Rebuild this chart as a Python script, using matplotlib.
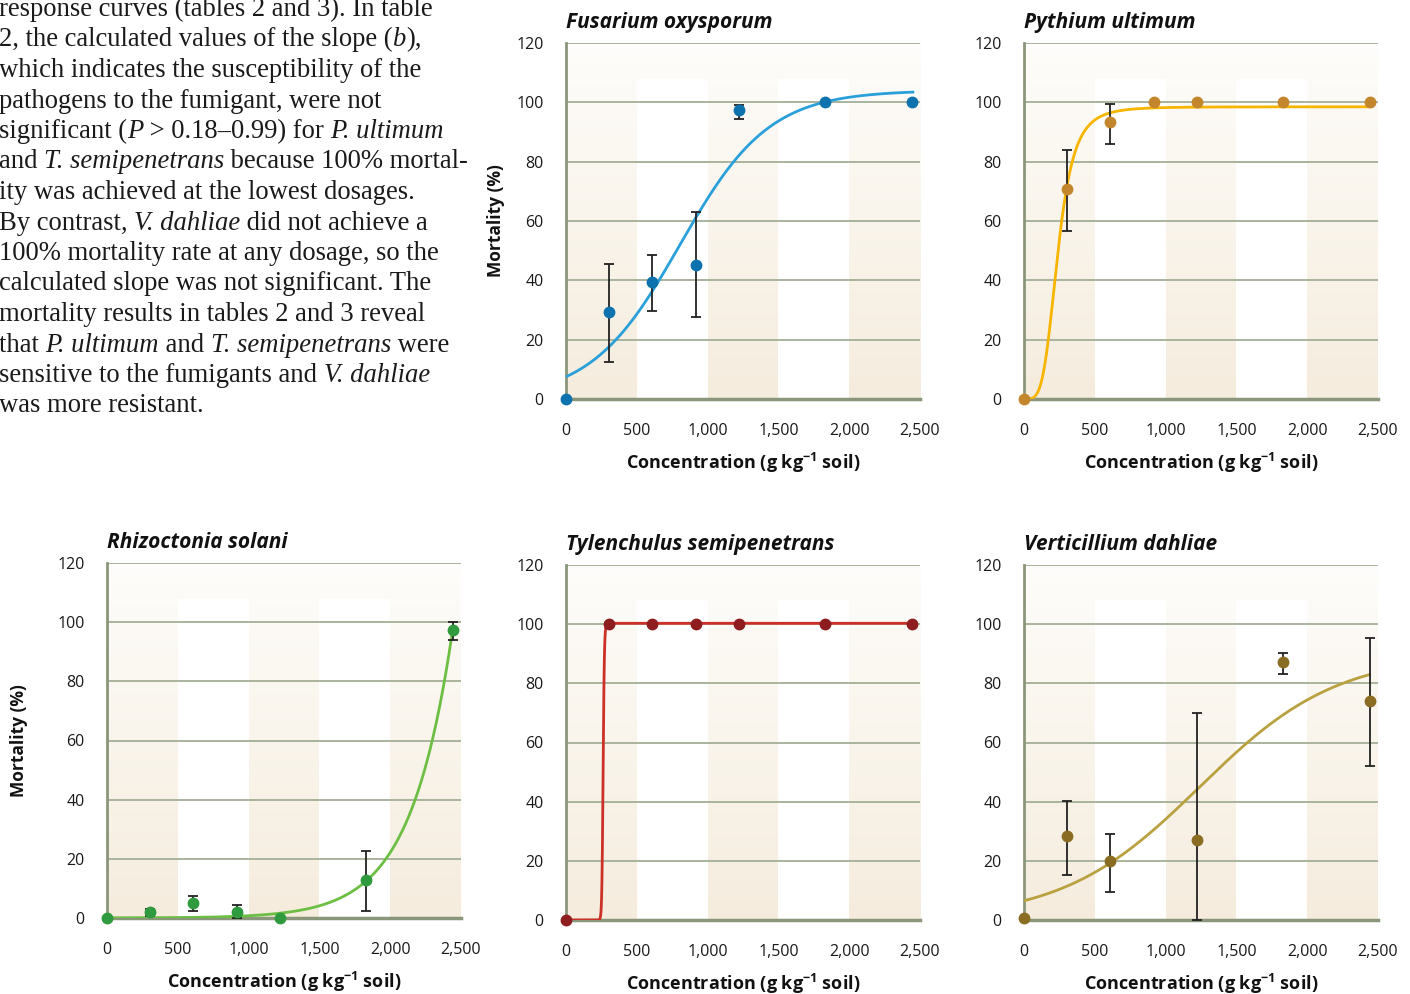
import numpy as np
import matplotlib.pyplot as plt
from matplotlib.colors import LinearSegmentedColormap

W, H = 1410, 994

plt.rcParams['font.family'] = ['Open Sans', 'DejaVu Sans']
plt.rcParams['mathtext.fontset'] = 'custom'
plt.rcParams['mathtext.rm'] = 'Open Sans'
plt.rcParams['mathtext.bf'] = 'Open Sans:bold'

# 濃度 (g/kg soil)
conc = [0, 305, 610, 915, 1220, 1830, 2440]
xticks = [0, 500, 1000, 1500, 2000, 2500]
xtick_labels = ['0', '500', '1,000', '1,500', '2,000', '2,500']
yticks = [0, 20, 40, 60, 80, 100, 120]

# Fusarium oxysporum
fus_y = [0, 29.3, 39.3, 45.3, 97.3, 100, 100]
fus_lo = [0, 12.4, 29.6, 27.5, 94.5, 100, 100]
fus_hi = [0, 45.6, 48.7, 62.9, 99.2, 100, 100]
fus_fit = [104, 0.003175, 805]          # logistic: d, k, x0

# Pythium ultimum
pyt_y = [0, 70.8, 93.3, 100, 100, 100, 100]
pyt_lo = [0, 56.7, 86.1, 100, 99.6, 100, 100]
pyt_hi = [0, 84.0, 99.6, 100, 100.4, 100, 100]
pyt_fit = [98.5, 239, 4.13]             # log-logistic: d, e, b

# Rhizoctonia solani
rhi_y = [0, 1.9, 5.1, 1.9, 0, 12.7, 97.2]
rhi_lo = [0, 0.8, 2.3, 0, 0, 2.3, 93.9]
rhi_hi = [0, 3.0, 7.3, 4.5, 0, 22.8, 100]
rhi_fit = [0.0267, 0.00336]             # exponential: a, k

# Tylenchulus semipenetrans
tyl_y = [0, 100, 100, 100, 100, 100, 100]
tyl_lo = [0, 100, 100, 100, 100, 100, 100]
tyl_hi = [0, 100, 100, 100, 100, 100, 100]
tyl_fit = [100.3, 262, 60]              # log-logistic

# Verticillium dahliae (915 なし)
ver_y = [0.8, 28.4, 19.8, np.nan, 27.0, 87.1, 74.1]
ver_lo = [0.8, 15.3, 9.6, np.nan, 0, 83.2, 52.2]
ver_hi = [0.8, 40.3, 29.1, np.nan, 69.9, 90.4, 95.4]
ver_fit = [90, 0.002057, 1241]          # logistic


def logistic(x, d, k, x0):
    return d / (1 + np.exp(-k * (x - x0)))


def loglogistic(x, d, e, b):
    r = (x / e) ** b
    return d * r / (1 + r)


def expo(x, a, k):
    return a * np.exp(k * x)


# (title, y, lo, hi, func, fit, xmax, line colour, marker colour, box px, ylabel pad)
panels = [
    ('Fusarium oxysporum', fus_y, fus_lo, fus_hi, logistic, fus_fit, 2450,
     '#2aa0da', '#0d72ad', (566, 43, 920, 399), 8),
    ('Pythium ultimum', pyt_y, pyt_lo, pyt_hi, loglogistic, pyt_fit, 2440,
     '#f7b500', '#c4862c', (1024, 43, 1378, 399), None),
    ('Rhizoctonia solani', rhi_y, rhi_lo, rhi_hi, expo, rhi_fit, 2440,
     '#6cbf43', '#2f9a3e', (107, 563, 461, 918), 21),
    ('Tylenchulus semipenetrans', tyl_y, tyl_lo, tyl_hi, loglogistic, tyl_fit, 2440,
     '#cc3128', '#8e1d1f', (566, 565, 920, 920), None),
    ('Verticillium dahliae', ver_y, ver_lo, ver_hi, logistic, ver_fit, 2440,
     '#b9a140', '#8a6c22', (1024, 565, 1378, 920), None),
]

fig = plt.figure(figsize=(W / 100, H / 100), dpi=100)
bg = LinearSegmentedColormap.from_list('bg', ['#f5ecdd', '#fefdfb'])
spine_c = '#8a9679'
grid_c = '#a3ae96'

for title, y, lo, hi, func, fit, xmax, lc, mc, box, ypad in panels:
    l, t, r, b = box
    ax = fig.add_axes([l / W, 1 - b / H, (r - l) / W, (b - t) / H])
    grad = np.linspace(0, 1, 256)[:, None]
    ax.imshow(grad, extent=[0, 2500, 0, 120], aspect='auto', cmap=bg,
              origin='lower', zorder=0)
    # 白いバンド
    for i in [1, 3]:
        ax.fill_between([xticks[i], xticks[i + 1]], 0, 108, color='white',
                        lw=0, zorder=0.5)
    ax.set_xlim(0, 2500)
    ax.set_ylim(0, 120)
    ax.set_xticks(xticks)
    ax.set_xticklabels(xtick_labels)
    ax.set_yticks(yticks)
    ax.tick_params(length=0, labelsize=11.5, colors='#1a1a1a')
    ax.tick_params(axis='y', pad=16)
    ax.tick_params(axis='x', pad=17)
    ax.yaxis.grid(True, color=grid_c, lw=1.3, zorder=1)
    ax.set_axisbelow(True)
    for s in ['top', 'right']:
        ax.spines[s].set_visible(False)
    ax.spines['left'].set_color(spine_c)
    ax.spines['left'].set_linewidth(2)
    ax.spines['bottom'].set_color(spine_c)
    ax.spines['bottom'].set_linewidth(2.5)

    xs = np.linspace(0, xmax, 3000)
    ax.plot(xs, func(xs, *fit), color=lc, lw=2, zorder=3)

    yv = np.array(y, dtype=float)
    err = [yv - np.array(lo, dtype=float), np.array(hi, dtype=float) - yv]
    ax.errorbar(conc, yv, yerr=err, fmt='none', ecolor='#222222', elinewidth=1.3,
                capsize=3.8, capthick=1.3, zorder=4, clip_on=False)
    ax.plot(conc, yv, 'o', color=mc, ms=7.5, zorder=5, clip_on=False)

    ax.set_title(title, loc='left', fontsize=15, fontweight='bold', style='italic',
                 pad=11, color='#111111')
    ax.set_xlabel(r'Concentration (g kg$^{\mathbf{-1}}$ soil)', fontsize=13,
                  fontweight='bold', labelpad=9, color='#111111')
    if ypad is not None:
        ax.set_ylabel('Mortality (%)', fontsize=12.5, fontweight='bold', labelpad=ypad,
                      color='#111111')

# 左上の本文
lines = [
    [('response curves (tables 2 and 3). In table', 'normal')],
    [('2, the calculated values of the slope (', 'normal'), ('b', 'italic'), ('),', 'normal')],
    [('which indicates the susceptibility of the', 'normal')],
    [('pathogens to the fumigant, were not', 'normal')],
    [('significant (', 'normal'), ('P', 'italic'), (' > 0.18\u20130.99) for ', 'normal'),
     ('P. ultimum', 'italic')],
    [('and ', 'normal'), ('T. semipenetrans', 'italic'), (' because 100% mortal-', 'normal')],
    [('ity was achieved at the lowest dosages.', 'normal')],
    [('By contrast, ', 'normal'), ('V. dahliae', 'italic'), (' did not achieve a', 'normal')],
    [('100% mortality rate at any dosage, so the', 'normal')],
    [('calculated slope was not significant. The', 'normal')],
    [('mortality results in tables 2 and 3 reveal', 'normal')],
    [('that ', 'normal'), ('P. ultimum', 'italic'), (' and ', 'normal'),
     ('T. semipenetrans', 'italic'), (' were', 'normal')],
    [('sensitive to the fumigants and ', 'normal'), ('V. dahliae', 'italic')],
    [('was more resistant.', 'normal')],
]

renderer = fig.canvas.get_renderer()
serif = ['Liberation Serif', 'DejaVu Serif']


def seg_width(s, size, style):
    t1 = fig.text(0, 0, '|' + s + '|', family=serif, size=size, style=style)
    t2 = fig.text(0, 0, '||', family=serif, size=size, style=style)
    w = t1.get_window_extent(renderer).width - t2.get_window_extent(renderer).width
    t1.remove()
    t2.remove()
    return w


fs = 18 * 423 / seg_width('which indicates the susceptibility of the', 18, 'normal')
for i, line in enumerate(lines):
    x = -1.0
    base = 16 + i * 30.5
    for s, style in line:
        fig.text(x / W, 1 - base / H, s, family=serif, size=fs, style=style,
                 va='baseline', ha='left', color='#1a1a1a')
        x += seg_width(s, fs, style)

fig.savefig('out.png', dpi=100)
